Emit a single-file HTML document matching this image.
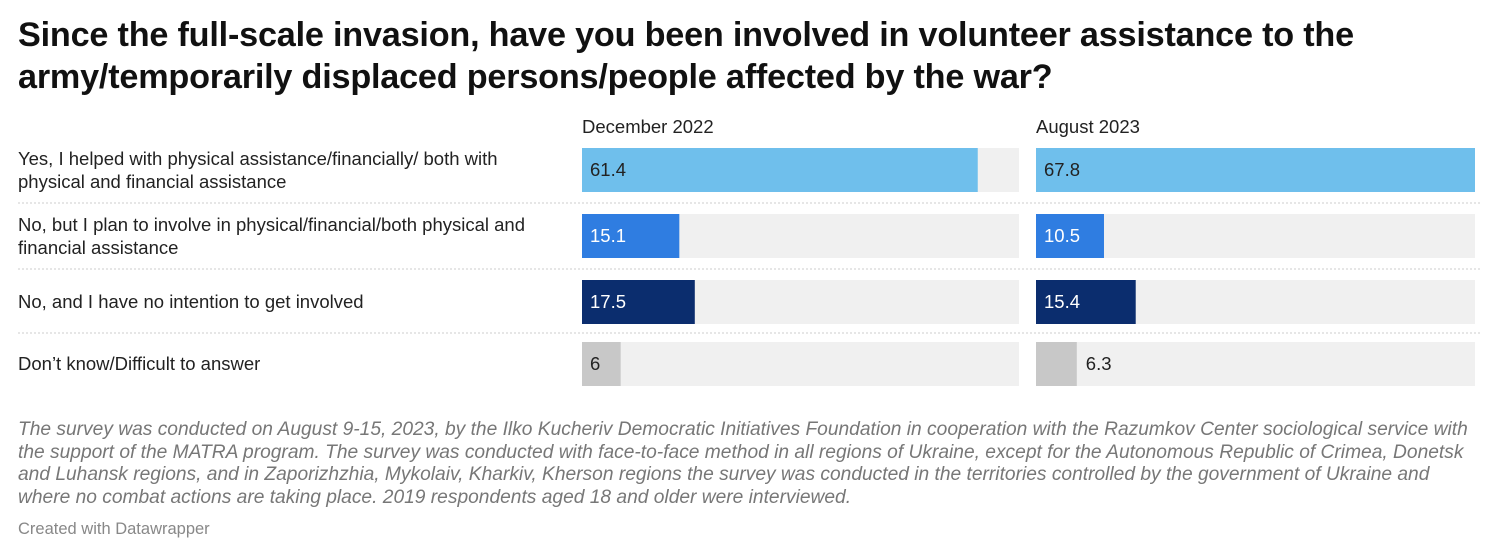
<!DOCTYPE html>
<html><head><meta charset="utf-8">
<style>
body{margin:0;background:#fff;font-family:"Liberation Sans",sans-serif;}
#wrap{position:relative;width:1500px;height:558px;overflow:hidden;}
h1{position:absolute;left:18px;top:14px;margin:0;font-size:34.2px;line-height:42px;font-weight:bold;color:#111;width:1470px;letter-spacing:-0.2px;}
.lbl{position:absolute;left:18px;font-size:18.5px;line-height:23px;color:#222;width:545px;}
.hdr{position:absolute;top:116px;font-size:18.5px;color:#222;}
.note{position:absolute;left:18px;top:419px;width:1468px;font-size:19.2px;line-height:22.6px;color:#777;font-style:italic;}
.credit{position:absolute;left:18px;top:520px;font-size:16.5px;color:#888;}
</style></head><body>
<div id="wrap">
<h1>Since the full-scale invasion, have you been involved in volunteer assistance to the army/temporarily displaced persons/people affected by the war?</h1>
<div class="hdr" style="left:582px">December 2022</div>
<div class="hdr" style="left:1036px">August 2023</div>
<svg id="plot" width="1500" height="400" style="position:absolute;left:0;top:0"></svg>
<div id="labels"></div>
<div class="note">The survey was conducted on August 9-15, 2023, by the Ilko Kucheriv Democratic Initiatives Foundation in cooperation with the Razumkov Center sociological service with the support of the MATRA program. The survey was conducted with face-to-face method in all regions of Ukraine, except for the Autonomous Republic of Crimea, Donetsk and Luhansk regions, and in Zaporizhzhia, Mykolaiv, Kharkiv, Kherson regions the survey was conducted in the territories controlled by the government of Ukraine and where no combat actions are taking place. 2019 respondents aged 18 and older were interviewed.</div>
<div class="credit">Created with Datawrapper</div>
</div>
<script>
const categories=["Yes, I helped with physical assistance/financially/ both with physical and financial assistance","No, but I plan to involve in physical/financial/both physical and financial assistance","No, and I have no intention to get involved","Don’t know/Difficult to answer"];
const dec2022=[61.4,15.1,17.5,6];
const aug2023=[67.8,10.5,15.4,6.3];
const colors=["#6fbfec","#2f7de1","#0b2d6e","#c8c8c8"];
const textColors=["#222","#fff","#fff","#222"];
const NS="http://www.w3.org/2000/svg";
const svg=document.getElementById('plot');
const maxV=Math.max(...dec2022,...aug2023);
const panels=[{x:582,w:437,vals:dec2022,name:'dec-2022'},{x:1036,w:439,vals:aug2023,name:'aug-2023'}];
const rowTop=[148,214,280,342], barH=44;
function xs(p,v){return p.w*v/maxV;}
const labels=document.getElementById('labels');
categories.forEach((c,i)=>{
  const d=document.createElement('div');
  d.className='lbl';
  d.style.top=(rowTop[i]+barH/2-(c.length>60?23:12.5))+'px';
  d.textContent=c;
  
  
  labels.appendChild(d);
  if(i<categories.length-1){
    const l=document.createElementNS(NS,'line');
    const y=(rowTop[i]+barH+rowTop[i+1])/2;
    l.setAttribute('x1',18);l.setAttribute('x2',1482);l.setAttribute('y1',y);l.setAttribute('y2',y);
    l.setAttribute('stroke','#ccc');l.setAttribute('stroke-dasharray','2,2');
    
    
    svg.appendChild(l);
  }
  panels.forEach(p=>{
    const bg=document.createElementNS(NS,'rect');
    bg.setAttribute('x',p.x);bg.setAttribute('y',rowTop[i]);bg.setAttribute('width',p.w);bg.setAttribute('height',barH);bg.setAttribute('fill','#f0f0f0');
    
    
    svg.appendChild(bg);
    const v=p.vals[i], w=xs(p,v);
    const r=document.createElementNS(NS,'rect');
    r.setAttribute('x',p.x);r.setAttribute('y',rowTop[i]);r.setAttribute('width',w);r.setAttribute('height',barH);r.setAttribute('fill',colors[i]);
    
    
    svg.appendChild(r);
    const s=String(v);
    const tw=s.length*10;
    const inside=tw+14<=w;
    const t=document.createElementNS(NS,'text');
    t.setAttribute('x',inside?p.x+8:p.x+w+9);
    t.setAttribute('y',rowTop[i]+barH/2+6);
    t.setAttribute('font-size','18.5');
    t.setAttribute('font-family','Liberation Sans, sans-serif');
    t.setAttribute('fill',inside?textColors[i]:'#222');
    t.textContent=s;
    
    
    svg.appendChild(t);
  });
});
</script>
</body></html>
